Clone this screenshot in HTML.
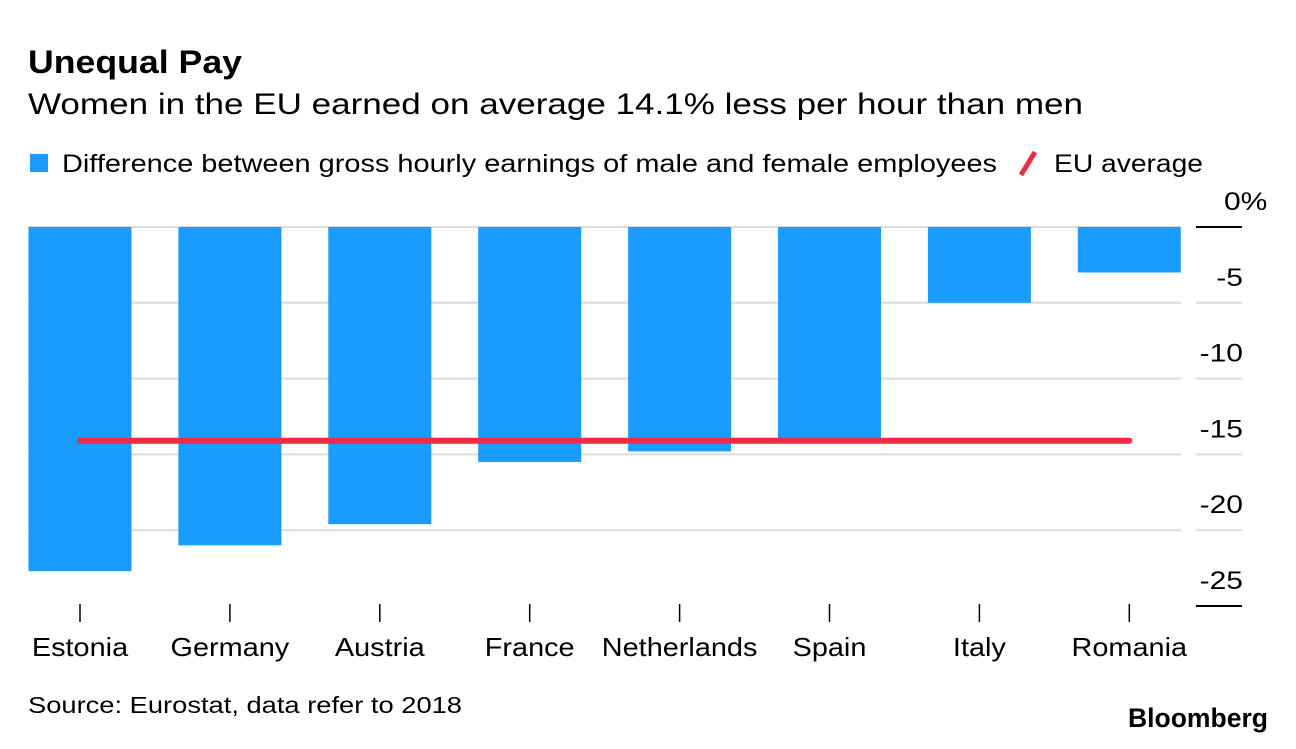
<!DOCTYPE html>
<html><head><meta charset="utf-8"><style>
body{margin:0;background:#fff;font-family:"Liberation Sans",Arial,sans-serif;}
svg text{font-family:"Liberation Sans",Arial,sans-serif;}
</style></head><body>
<svg id="chart" width="1296" height="744" xmlns="http://www.w3.org/2000/svg">
<text x="28" y="73" font-size="32" font-weight="bold" fill="#000" textLength="214" lengthAdjust="spacingAndGlyphs">Unequal Pay</text>
<text x="28" y="114" font-size="30" fill="#000" textLength="1055" lengthAdjust="spacingAndGlyphs">Women in the EU earned on average 14.1% less per hour than men</text>
<g>
<rect x="30" y="154" width="18" height="18" fill="#1a9cff"/>
<text x="62" y="172" font-size="25" fill="#000" textLength="935" lengthAdjust="spacingAndGlyphs">Difference between gross hourly earnings of male and female employees</text>
<line x1="1021" y1="175" x2="1035" y2="152" stroke="#ee2a45" stroke-width="5"/>
<text x="1054" y="172" font-size="25" fill="#000" textLength="149" lengthAdjust="spacingAndGlyphs">EU average</text>
</g>
<g id="grid"></g><g id="bars"></g><g id="xaxis"></g><g id="avg"></g>
<text x="28" y="713" font-size="23" fill="#000" textLength="434" lengthAdjust="spacingAndGlyphs">Source: Eurostat, data refer to 2018</text>
<text x="1128" y="727" font-size="27" font-weight="bold" fill="#000" textLength="140" lengthAdjust="spacingAndGlyphs">Bloomberg</text>
</svg>
<script>
const categories=["Estonia","Germany","Austria","France","Netherlands","Spain","Italy","Romania"];
const values=[-22.7,-21.0,-19.6,-15.5,-14.8,-14.0,-5.0,-3.0];
const euAverage=-14.1;
const ticks=[0,-5,-10,-15,-20,-25];
const tickLabels=["0%","-5","-10","-15","-20","-25"];
const NS="http://www.w3.org/2000/svg";
const y=v=>227+(-v)*15.16;
const xc=i=>80+i*149.9;
function mk(t,a,p){const e=document.createElementNS(NS,t);for(const k in a)e.setAttribute(k,a[k]);p.appendChild(e);return e;}
function stretch(el,f){const w=el.getComputedTextLength();el.setAttribute('textLength',w*f);el.setAttribute('lengthAdjust','spacingAndGlyphs');}
const grid=document.getElementById('grid');
ticks.forEach((t,i)=>{
 const col=(t===0||t===-25)?"#000":"#dcdcdc";
 if(t!==-25){const l=mk('line',{x1:28,x2:1181,y1:y(t),y2:y(t),stroke:"#dcdcdc","stroke-width":2},grid);
 
 }
 const l2=mk('line',{x1:1196,x2:1242,y1:y(t),y2:y(t),stroke:col,"stroke-width":2},grid);
 
 
 const isPct=tickLabels[i].indexOf('%')>=0;
 const tx=mk('text',{x:isPct?1224:1243,y:y(t)-17,"font-size":25,"text-anchor":isPct?"start":"end",fill:"#000"},grid);
 tx.textContent=tickLabels[i];
 
 
 stretch(tx,1.2);
});
const bars=document.getElementById('bars'),xa=document.getElementById('xaxis');
values.forEach((v,i)=>{
 const r=mk('rect',{x:xc(i)-51.5,y:y(0),width:103,height:y(v)-y(0),fill:"#1a9cff"},bars);
 
 
 const tk=mk('line',{x1:xc(i),x2:xc(i),y1:604,y2:622,stroke:"#000","stroke-width":1.5},xa);
 
 
 const lb=mk('text',{x:xc(i),y:656,"font-size":26,"text-anchor":"middle",fill:"#000"},xa);
 lb.textContent=categories[i];
 
 
 stretch(lb,1.11);
});
const av=mk('line',{x1:xc(0),x2:xc(categories.length-1),y1:y(euAverage),y2:y(euAverage),stroke:"#ee2a45","stroke-width":6,"stroke-linecap":"round"},document.getElementById('avg'));


</script>
</body></html>
